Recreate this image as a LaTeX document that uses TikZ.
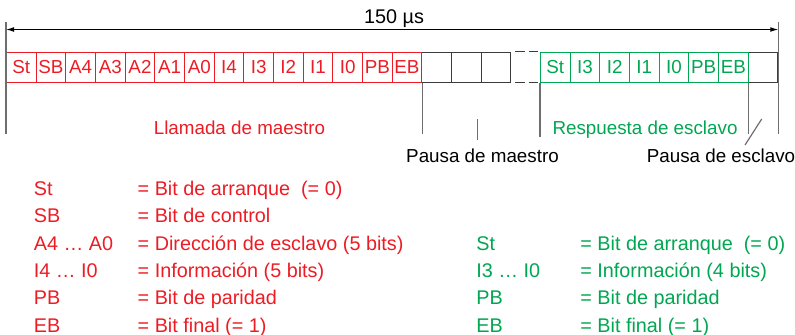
\documentclass[tikz,border=0pt]{standalone}
\usepackage{fontspec}
\setmainfont{Liberation Sans}
\usepackage{tikz}
\usepackage{xcolor}
\usetikzlibrary{positioning, arrows.meta}
\definecolor{asired}{RGB}{237, 28, 36}
\definecolor{asigreen}{RGB}{0, 166, 81}
\definecolor{asigray}{RGB}{60, 60, 60}
\definecolor{asiline}{RGB}{110, 110, 110}
\tikzset{
    bitcell/.style={draw=asigray, line width=0.5pt, minimum width=14.83pt, minimum height=15pt, inner sep=0pt, anchor=west, font=\fontsize{9.4}{11}\selectfont},
    mastercell/.style={bitcell, draw=asired, text=asired},
    slavecell/.style={bitcell, draw=asigreen, text=asigreen},
    gapcell/.style={bitcell, draw=none},
    marker/.style={draw=asiline, line width=0.6pt},
    caption/.style={anchor=base, font=\fontsize{9.4}{11}\selectfont},
    keytext/.style={anchor=base west, inner sep=0pt, font=\fontsize{9.9}{12}\selectfont}
}

\begin{document}
\begin{tikzpicture}[x=0.5pt, y=-0.5pt]
                \useasboundingbox (0,0) rectangle (795,334);

                % Empty cells and pauses
                \foreach \i/\n in {15/g1,16/g2,17/g3,26/g5}
                    \node[bitcell] (\n) at ({6+(\i-1)*29.665},67) {};
                \node[gapcell] (g4) at ({6+17*29.665},67) {};
                \draw[draw=asigray, line width=0.5pt, dash pattern=on 4.75pt off 2pt] ([xshift=2.5pt]g4.north west) -- (g4.north east);
                \draw[draw=asigray, line width=0.5pt, dash pattern=on 4.75pt off 2pt] ([xshift=2.5pt]g4.south west) -- (g4.south east);

                % Master call
                \foreach \lab [count=\i] in {St,SB,A4,A3,A2,A1,A0,I4,I3,I2,I1,I0,PB,EB}
                    \node[mastercell] (m\i) at ({6+(\i-1)*29.665},67) {\lab};

                % Slave response
                \foreach \lab [count=\i] in {St,I3,I2,I1,I0,PB,EB}
                    \node[slavecell] (s\i) at ({6+(\i+17)*29.665},67) {\lab};

                % Cycle time
                \draw[marker] ([yshift=15pt]m1.north west) -- ([yshift=-25.5pt]m1.south west);
                \draw[marker] ([yshift=15pt]g5.north east) -- ([yshift=-25.5pt]g5.south east);
                \draw[{Latex[length=4pt,width=2.4pt]}-{Latex[length=4pt,width=2.4pt]}, line width=0.5pt] ([yshift=11pt]m1.north west) -- ([yshift=11pt]g5.north east);
                \node[caption, font=\fontsize{9.9}{12}\selectfont] (span) at (394,23) {150 µs};

                % Section boundaries
                \draw[marker] (m14.south east) -- ([yshift=-25.5pt]m14.south east);
                \draw[marker] (s1.south west) -- ([yshift=-27pt]s1.south west);
                \draw[marker] (s7.south east) -- ([yshift=-25.5pt]s7.south east);

                \node[caption, text=asired] (mcall) at (239.5,134) {Llamada de maestro};
                \node[caption, text=asigreen] (sresp) at (645,134) {Respuesta de esclavo};
                \node[caption] (mpause) at (482.5,162) {Pausa de maestro};
                \node[caption] (spause) at (721,162) {Pausa de esclavo};

                \coordinate (mtick) at (477.7,119);
                \coordinate (mfoot) at (477.7,140);
                \draw[marker] (mtick) -- (mfoot);
                \coordinate (stick) at (761.7,119);
                \coordinate (sfoot) at (745,145);
                \draw[marker] (stick) -- (sfoot);

                % Legend of the master call
                \foreach \k/\d [count=\r] in {St/{= Bit de arranque\ \ (= 0)}, SB/{= Bit de control}, {A4 … A0}/{= Dirección de esclavo (5 bits)}, {I4 … I0}/{= Información (5 bits)}, PB/{= Bit de paridad}, EB/{= Bit final (= 1)}}
                {
                    \node[keytext, text=asired] (mk\r) at (33.5,{195.5+(\r-1)*27.3}) {\k};
                    \node[keytext, text=asired] (md\r) at (137.3,{195.5+(\r-1)*27.3}) {\d};
                }

                % Legend of the slave response
                \foreach \k/\d [count=\r from 3] in {St/{= Bit de arranque\ \ (= 0)}, {I3 … I0}/{= Información (4 bits)}, PB/{= Bit de paridad}, EB/{= Bit final (= 1)}}
                {
                    \node[keytext, text=asigreen] (sk\r) at (476,{195.5+(\r-1)*27.3}) {\k};
                    \node[keytext, text=asigreen] (sd\r) at (580,{195.5+(\r-1)*27.3}) {\d};
                }
\end{tikzpicture}
\end{document}
